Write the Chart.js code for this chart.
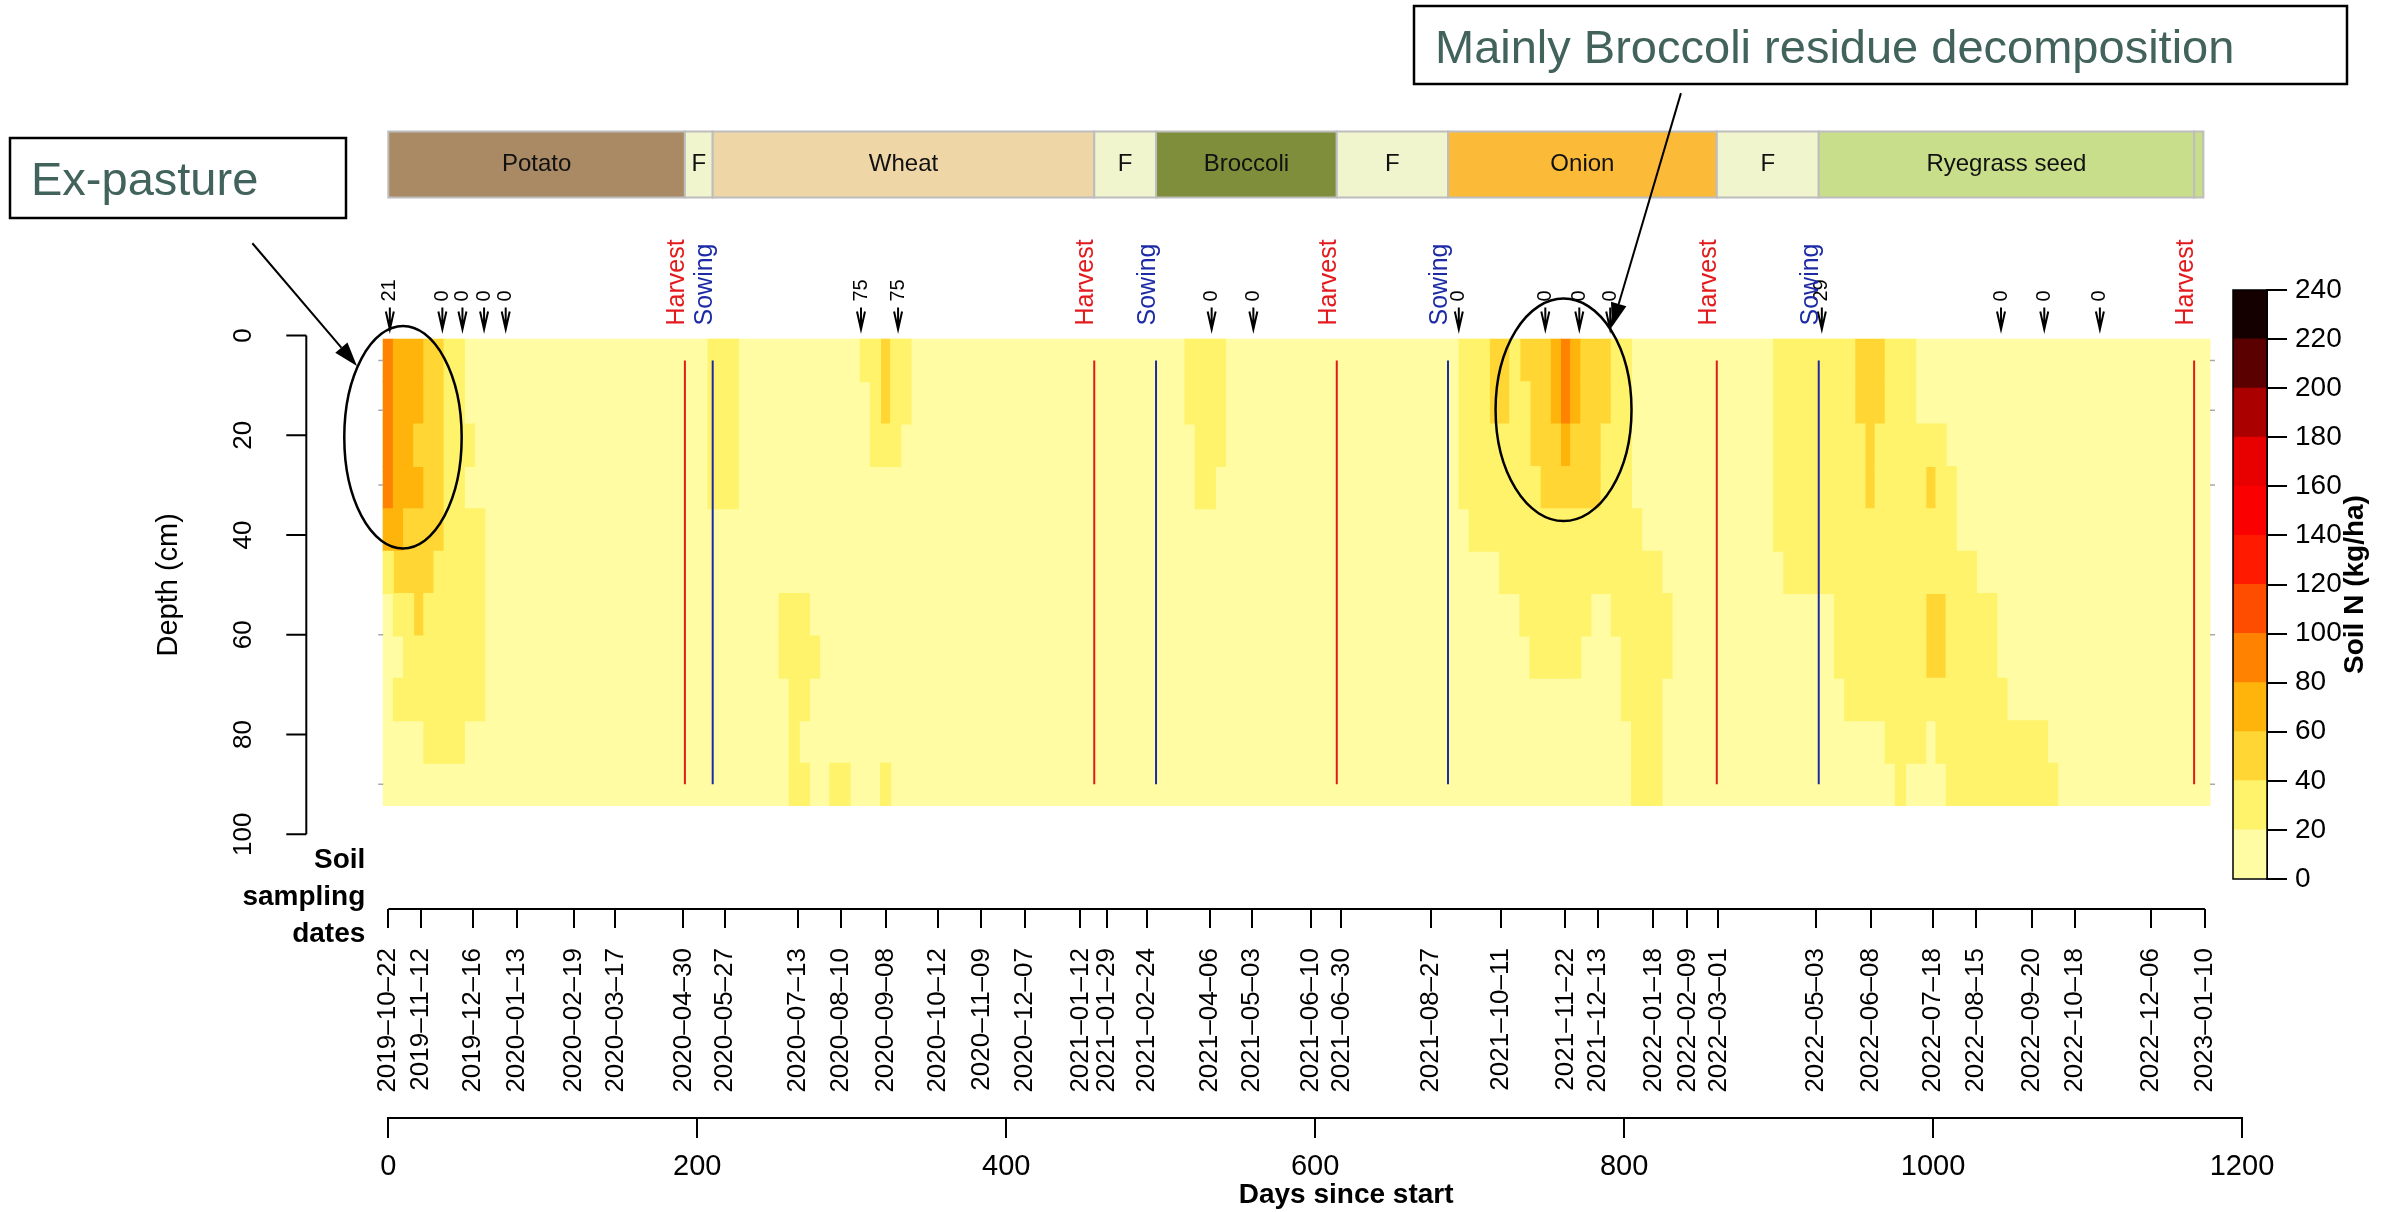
<!DOCTYPE html>
<html>
<head>
<meta charset="utf-8">
<title>Soil mineral N by depth</title>
<script src="https://cdn.jsdelivr.net/npm/chart.js@4"></script>
<style>
  html, body { margin: 0; padding: 0; background: #fff; }
  #wrap { position: relative; width: 2387px; height: 1212px; }
  #main { position: absolute; left: 0; top: 0; }
  #nScale { position: absolute; left: 2200px; top: 260px; }
</style>
</head>
<body>
<div id="wrap">
  <canvas id="main" width="2387" height="1212"></canvas>
  <canvas id="nScale" width="187" height="650"></canvas>
</div>
<script>
// ---- data ----
const startDate = '2019-10-22';
const sampleDates = [
  '2019-10-22', '2019-11-12', '2019-12-16', '2020-01-13', '2020-02-19', '2020-03-17',
  '2020-04-30', '2020-05-27', '2020-07-13', '2020-08-10', '2020-09-08', '2020-10-12',
  '2020-11-09', '2020-12-07', '2021-01-12', '2021-01-29', '2021-02-24', '2021-04-06',
  '2021-05-03', '2021-06-10', '2021-06-30', '2021-08-27', '2021-10-11', '2021-11-22',
  '2021-12-13', '2022-01-18', '2022-02-09', '2022-03-01', '2022-05-03', '2022-06-08',
  '2022-07-18', '2022-08-15', '2022-09-20', '2022-10-18', '2022-12-06', '2023-01-10'
];
const dayTicks = [0, 200, 400, 600, 800, 1000, 1200];
const depthTicks = [0, 20, 40, 60, 80, 100];
const probeDepths = [5, 15, 30, 60, 90];

// crop sequence (days since start)
const cropNames = ['Potato', 'F', 'Wheat', 'F', 'Broccoli', 'F', 'Onion', 'F', 'Ryegrass seed', ''];
const cropStart = [0, 192, 210, 457, 497, 614, 686, 860, 926, 1169];
const cropEnd = [192, 210, 457, 497, 614, 686, 860, 926, 1169, 1175];
const harvestDays = [192, 457, 614, 860, 1169];
const sowingDays = [210, 497, 686, 926];

// fertiliser events and N applied (kg/ha)
const eventDays = [1, 35, 48, 62, 76, 306, 330, 533, 560, 693, 749, 771, 791, 928, 1044, 1072, 1108];
const eventN = [21, 0, 0, 0, 0, 75, 75, 0, 0, 0, 0, 0, 0, 29, 0, 0, 0];

// soil N grid: 11 depth rows x 180 time columns (first..last sampling date)
const depthRows = [5, 13.5, 22, 30.5, 39, 47.5, 56, 64.5, 73, 81.5, 90];
const nCols = 180;
const baseN = 10;
// per depth row: [first column, last column, soil N kg/ha]; other cells = baseN
const nRuns = [
  [[0,0,90],[1,3,70],[4,5,50],[6,7,30],[32,34,30],[47,48,30],[49,49,50],[50,51,30],[79,82,30],[106,108,30],[109,110,50],[111,111,30],[112,114,50],[115,115,70],[116,116,90],[117,117,70],[118,120,50],[121,122,30],[137,144,30],[145,147,50],[148,150,30]],
  [[0,0,90],[1,3,70],[4,5,50],[6,7,30],[32,34,30],[48,48,30],[49,49,50],[50,51,30],[79,82,30],[106,108,30],[109,110,50],[111,112,30],[113,114,50],[115,115,70],[116,116,90],[117,117,70],[118,120,50],[121,122,30],[137,144,30],[145,147,50],[148,150,30]],
  [[0,0,90],[1,2,70],[3,5,50],[6,8,30],[32,34,30],[48,50,30],[80,82,30],[106,112,30],[113,115,50],[116,116,70],[117,119,50],[120,122,30],[137,145,30],[146,146,50],[147,153,30]],
  [[0,0,90],[1,3,70],[4,5,50],[6,7,30],[32,34,30],[80,81,30],[106,113,30],[114,119,50],[120,122,30],[137,145,30],[146,146,50],[147,151,30],[152,152,50],[153,154,30]],
  [[0,1,70],[2,5,50],[6,9,30],[107,123,30],[137,154,30]],
  [[0,0,30],[1,4,50],[5,9,30],[110,125,30],[138,156,30]],
  [[1,2,30],[3,3,50],[4,9,30],[39,41,30],[112,118,30],[121,126,30],[143,151,30],[152,153,50],[154,158,30]],
  [[2,9,30],[39,42,30],[113,117,30],[122,126,30],[143,151,30],[152,153,50],[154,158,30]],
  [[1,9,30],[40,41,30],[122,125,30],[144,159,30]],
  [[4,7,30],[40,40,30],[123,125,30],[148,151,30],[153,163,30]],
  [[40,41,30],[44,45,30],[49,49,30],[123,125,30],[149,149,30],[154,164,30]]
];
const nBreaks = [0, 20, 40, 60, 80, 100, 120, 140, 160, 180, 200, 220, 240];

// ---- styles ----
const nColors = ['#FFFCA3', '#FFF36B', '#FFD633', '#FFB40C', '#FF8200', '#FF4D00',
                 '#FF1A00', '#FA0000', '#E80000', '#AA0000', '#5A0000', '#150000'];
const cropColors = ['#A98A64', '#F0F5CE', '#EFD6A7', '#F0F5CE', '#7F8E3A', '#F0F5CE',
                    '#FBBB38', '#F0F5CE', '#C8DE8B', '#C8DE8B'];
const FONT = '"Liberation Sans", Arial, Helvetica, sans-serif';
Chart.defaults.font.family = FONT;
Chart.defaults.color = '#000';

const dayOf = s => Math.round((Date.parse(s) - Date.parse(startDate)) / 864e5);
const sampleDays = sampleDates.map(dayOf);
const colStep = sampleDays[sampleDays.length - 1] / (nCols - 1);
const colEdge = c => (c - 0.5) * colStep;
const levelOf = v => {
  let k = 0;
  while (k < nBreaks.length - 2 && v >= nBreaks[k + 1]) k++;
  return k;
};

// one bar dataset per colour class, each run is a floating horizontal bar
const heatSets = nColors.map((c, k) => ({
  type: 'bar',
  data: [],
  backgroundColor: c,
  borderWidth: 0,
  grouped: false,
  barPercentage: 1,
  categoryPercentage: 1,
  inflateAmount: 0.5,
  clip: false,
  order: k === levelOf(baseN) ? 3 : 2
}));
depthRows.forEach((d, r) => {
  heatSets[levelOf(baseN)].data.push({ y: d, x: [colEdge(0), colEdge(nCols)] });
  nRuns[r].forEach(([c0, c1, v]) => {
    heatSets[levelOf(v)].data.push({ y: d, x: [colEdge(c0), colEdge(c1 + 1)] });
  });
});

const eventLine = (d, color) => ({
  type: 'line',
  data: [{ x: d, y: depthRows[0] }, { x: d, y: depthRows[depthRows.length - 1] }],
  borderColor: color,
  borderWidth: 2,
  pointRadius: 0,
  order: 1
});
const lineSets = harvestDays.map(d => eventLine(d, '#E3191C'))
  .concat(sowingDays.map(d => eventLine(d, '#1C2AA5')));

function font(size, bold) {
  return (bold ? 'bold ' : '') + size + 'px ' + FONT;
}

function vText(ctx, text, x, y, align, f, color) {
  ctx.save();
  ctx.translate(x, y);
  ctx.rotate(-Math.PI / 2);
  ctx.font = f;
  ctx.fillStyle = color || '#000';
  ctx.textAlign = align;
  ctx.textBaseline = 'middle';
  ctx.fillText(text, 0, 0);
  ctx.restore();
}

function calloutArrow(ctx, x0, y0, x1, y1) {
  const a = Math.atan2(y1 - y0, x1 - x0), L = 24, W = 8;
  const bx = x1 - L * Math.cos(a), by = y1 - L * Math.sin(a);
  ctx.beginPath();
  ctx.moveTo(x0, y0);
  ctx.lineTo(bx, by);
  ctx.stroke();
  ctx.beginPath();
  ctx.moveTo(x1, y1);
  ctx.lineTo(bx + W * Math.sin(a), by - W * Math.cos(a));
  ctx.lineTo(bx - W * Math.sin(a), by + W * Math.cos(a));
  ctx.closePath();
  ctx.fill();
}

// everything around the heatmap: crop band, events, axes, notes
const decor = {
  id: 'decor',
  afterDraw(chart) {
    const { ctx, chartArea: area, scales: { x, y, x2 } } = chart;
    const X = v => x.getPixelForValue(v);
    const Y = v => y.getPixelForValue(v);
    ctx.save();

    // crop band
    const bandTop = area.top - 204, bandH = 66;
    cropNames.forEach((name, i) => {
      const x0 = X(cropStart[i]), x1 = X(cropEnd[i]);
      ctx.fillStyle = cropColors[i];
      ctx.fillRect(x0, bandTop, x1 - x0, bandH);
      ctx.strokeStyle = '#BDBDBD';
      ctx.lineWidth = 2;
      ctx.strokeRect(x0, bandTop, x1 - x0, bandH);
      if (name) {
        ctx.fillStyle = '#111';
        ctx.font = font(24);
        ctx.textAlign = 'center';
        ctx.textBaseline = 'middle';
        ctx.fillText(name, (x0 + x1) / 2, bandTop + bandH / 2);
      }
    });

    // fertiliser arrows with N amount
    ctx.strokeStyle = '#000';
    ctx.lineWidth = 2;
    eventDays.forEach((d, i) => {
      const px = X(d), tip = area.top - 6;
      ctx.beginPath();
      ctx.moveTo(px, tip - 22);
      ctx.lineTo(px, tip);
      ctx.moveTo(px - 4, tip - 18);
      ctx.lineTo(px, tip);
      ctx.lineTo(px + 4, tip - 18);
      ctx.stroke();
      vText(ctx, String(eventN[i]), px, tip - 28, 'left', font(20));
    });

    // harvest / sowing labels
    harvestDays.forEach(d => vText(ctx, 'Harvest', X(d) - 8, area.top - 10, 'left', font(25), '#E3191C'));
    sowingDays.forEach(d => vText(ctx, 'Sowing', X(d) - 8, area.top - 10, 'left', font(25), '#1C2AA5'));

    // sample depth marks on the heatmap edges
    ctx.strokeStyle = '#AAAAAA';
    ctx.lineWidth = 1.5;
    ctx.beginPath();
    probeDepths.forEach(d => {
      ctx.moveTo(X(colEdge(0)) - 5, Y(d));
      ctx.lineTo(X(colEdge(0)), Y(d));
      ctx.moveTo(X(colEdge(nCols)), Y(d));
      ctx.lineTo(X(colEdge(nCols)) + 5, Y(d));
    });
    ctx.stroke();

    // highlighted zones
    ctx.strokeStyle = '#000';
    ctx.lineWidth = 2.5;
    [[9.5, 20.4, 38, 22.3], [760.8, 14.9, 44, 22.3]].forEach(([cd, cz, rd, rz]) => {
      ctx.beginPath();
      ctx.ellipse(X(cd), Y(cz), X(cd + rd) - X(cd), Y(cz + rz) - Y(cz), 0, 0, Math.PI * 2);
      ctx.stroke();
    });

    // notes
    ctx.lineWidth = 2.5;
    ctx.strokeRect(10, 138, 336, 80);
    ctx.strokeRect(1414, 6, 933, 78);
    ctx.font = font(47);
    ctx.fillStyle = '#42625C';
    ctx.textAlign = 'left';
    ctx.textBaseline = 'alphabetic';
    ctx.fillText('Ex-pasture', 31, 195);
    ctx.fillText('Mainly Broccoli residue decomposition', 1435, 63);
    ctx.fillStyle = '#000';
    ctx.lineWidth = 2;
    calloutArrow(ctx, X(-88), Y(-18.5), X(-20.3), Y(6.1));
    calloutArrow(ctx, X(836.8), Y(-48.6), X(792.1), Y(-1.7));

    // depth axis
    const axX = area.left - 82;
    ctx.strokeStyle = '#000';
    ctx.lineWidth = 2;
    ctx.beginPath();
    ctx.moveTo(axX, Y(depthTicks[0]));
    ctx.lineTo(axX, Y(depthTicks[depthTicks.length - 1]));
    y.ticks.forEach(t => {
      ctx.moveTo(axX - 20, Y(t.value));
      ctx.lineTo(axX, Y(t.value));
    });
    ctx.stroke();
    y.ticks.forEach(t => vText(ctx, String(t.value), axX - 62, Y(t.value), 'center', font(26)));
    vText(ctx, 'Depth (cm)', axX - 137, Y(50), 'center', font(29));

    // sampling date axis line (first to last date)
    ctx.beginPath();
    ctx.moveTo(X(sampleDays[0]), x2.top);
    ctx.lineTo(X(sampleDays[sampleDays.length - 1]), x2.top);
    ctx.stroke();

    ctx.font = font(28, true);
    ctx.fillStyle = '#000';
    ctx.textAlign = 'right';
    ctx.textBaseline = 'alphabetic';
    ['Soil', 'sampling', 'dates'].forEach((s, i) => ctx.fillText(s, area.left - 23, x2.top - 41 + i * 37));

    ctx.textAlign = 'center';
    ctx.textBaseline = 'middle';
    ctx.fillText('Days since start', (area.left + area.right) / 2 + 31, x.bottom - 17);

    ctx.restore();
  }
};

new Chart(document.getElementById('main'), {
  type: 'bar',
  data: { datasets: heatSets.concat(lineSets) },
  options: {
    indexAxis: 'y',
    responsive: false,
    animation: false,
    devicePixelRatio: 1,
    events: [],
    layout: { padding: { left: 388.3, right: 145, top: 335.5, bottom: 0 } },
    scales: {
      x: {
        type: 'linear',
        position: 'bottom',
        weight: 2,
        min: 0,
        max: 1200,
        offset: false,
        afterBuildTicks: s => { s.ticks = dayTicks.map(v => ({ value: v })); },
        afterFit: s => { s.height = 94; },
        ticks: {
          font: { size: 29 },
          color: '#000',
          padding: 12,
          maxRotation: 0,
          autoSkip: false,
          callback: v => String(v)
        },
        grid: { drawOnChartArea: false, tickLength: 20, color: '#000', lineWidth: 2 },
        border: { display: true, color: '#000', width: 2 }
      },
      x2: {
        type: 'linear',
        position: 'bottom',
        weight: 1,
        min: 0,
        max: 1200,
        offset: false,
        afterBuildTicks: s => { s.ticks = sampleDays.map(v => ({ value: v })); },
        afterFit: s => { s.height = 209; },
        ticks: {
          font: { size: 26 },
          color: '#000',
          padding: 20,
          minRotation: 90,
          maxRotation: 90,
          autoSkip: false,
          callback: (v, i) => sampleDates[i].replace(/-/g, '\u2013')
        },
        grid: { drawOnChartArea: false, tickLength: 19, color: '#000', lineWidth: 2 },
        border: { display: false }
      },
      y: {
        type: 'linear',
        display: false,
        reverse: true,
        min: 0,
        max: 115,
        offset: false,
        afterBuildTicks: s => { s.ticks = depthTicks.map(v => ({ value: v })); }
      }
    },
    plugins: { legend: { display: false }, tooltip: { enabled: false } }
  },
  plugins: [decor]
});

// colour key: stacked bands, one per N class
const keyFrame = {
  id: 'keyFrame',
  afterDraw(chart) {
    const { ctx, chartArea: a } = chart;
    ctx.save();
    ctx.strokeStyle = '#000';
    ctx.lineWidth = 1.5;
    ctx.strokeRect(a.left, a.top, a.right - a.left, a.bottom - a.top);
    vText(ctx, 'Soil N (kg/ha)', 155, (a.top + a.bottom) / 2, 'center', font(28, true));
    ctx.restore();
  }
};

new Chart(document.getElementById('nScale'), {
  type: 'bar',
  data: {
    labels: [''],
    datasets: nColors.map((c, i) => ({
      data: [nBreaks[i + 1] - nBreaks[i]],
      backgroundColor: c,
      borderWidth: 0,
      barPercentage: 1,
      categoryPercentage: 1,
      inflateAmount: 0.5
    }))
  },
  options: {
    responsive: false,
    animation: false,
    devicePixelRatio: 1,
    events: [],
    layout: { padding: { left: 33, top: 30, bottom: 31, right: 0 } },
    scales: {
      x: { display: false, stacked: true },
      y: {
        position: 'right',
        stacked: true,
        min: 0,
        max: 240,
        afterBuildTicks: s => { s.ticks = nBreaks.map(v => ({ value: v })); },
        afterFit: s => { s.width = 120; },
        ticks: { font: { size: 28 }, color: '#000', padding: 8 },
        grid: { drawOnChartArea: false, tickLength: 20, color: '#000', lineWidth: 2 },
        border: { display: true, color: '#000', width: 2 }
      }
    },
    plugins: { legend: { display: false }, tooltip: { enabled: false } }
  },
  plugins: [keyFrame]
});
</script>
</body>
</html>
